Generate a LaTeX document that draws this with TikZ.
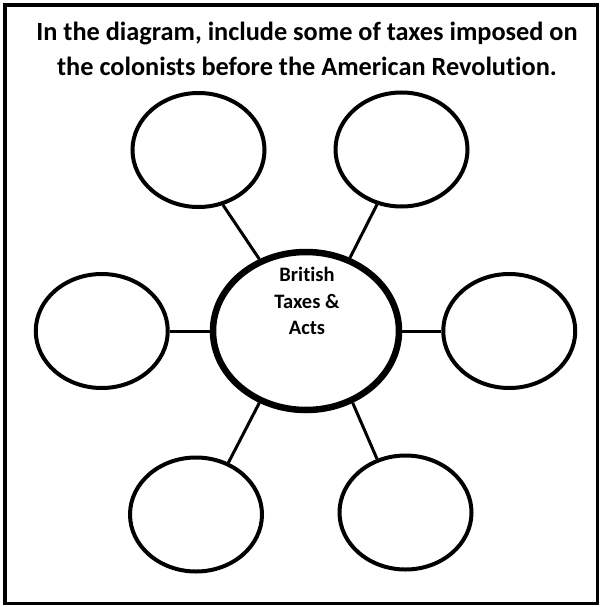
\documentclass[tikz,border=0pt]{standalone}
\usepackage{fontspec}
\setmainfont{Carlito}[RawFeature=-liga]
\usetikzlibrary{shapes.geometric, positioning}

\begin{document}
\begin{tikzpicture}[
  x=1pt, y=-1pt,
  font=\bfseries,
  hub/.style={draw, ellipse, line width=6.5pt, minimum width=186pt, minimum height=158pt, inner sep=0pt},
  petal/.style={draw, ellipse, line width=4pt, minimum width=132pt, minimum height=114pt, inner sep=0pt},
  spoke/.style={line width=3pt},
  title/.style={align=center, font=\fontsize{26.3}{34.5}\selectfont\bfseries},
  hubtext/.style={align=center, font=\fontsize{20.5}{26.5}\selectfont\bfseries}
]
\useasboundingbox (0,0) rectangle (602,607);
\draw[line width=3.5pt] (5,5) rectangle (597.5,603.5);

\node[title] (task) at (307,49) {In the diagram, include some of taxes imposed on\\the colonists before the American Revolution.};

\node[hub] (hub) at (306,331) {};
\node[hubtext] (hublabel) at (307,301) {British\\Taxes \&\\Acts};

\node[petal] (tl) at (198.5,150) {};
\node[petal] (tr) at (401.5,149.5) {};
\node[petal, left=40pt of hub] (ml) {};
\node[petal, right=39pt of hub] (mr) {};
\node[petal] (bl) at (196,514.5) {};
\node[petal] (br) at (405.5,512.5) {};

\draw[spoke] (hub.123) -- (tl.294);
\draw[spoke] (hub.59) -- (tr.246);
\draw[spoke] (hub.west) -- (ml.east);
\draw[spoke] (hub.east) -- (mr.west);
\draw[spoke] (hub.237) -- (bl.58);
\draw[spoke] (hub.303) -- (br.118);
\end{tikzpicture}
\end{document}
